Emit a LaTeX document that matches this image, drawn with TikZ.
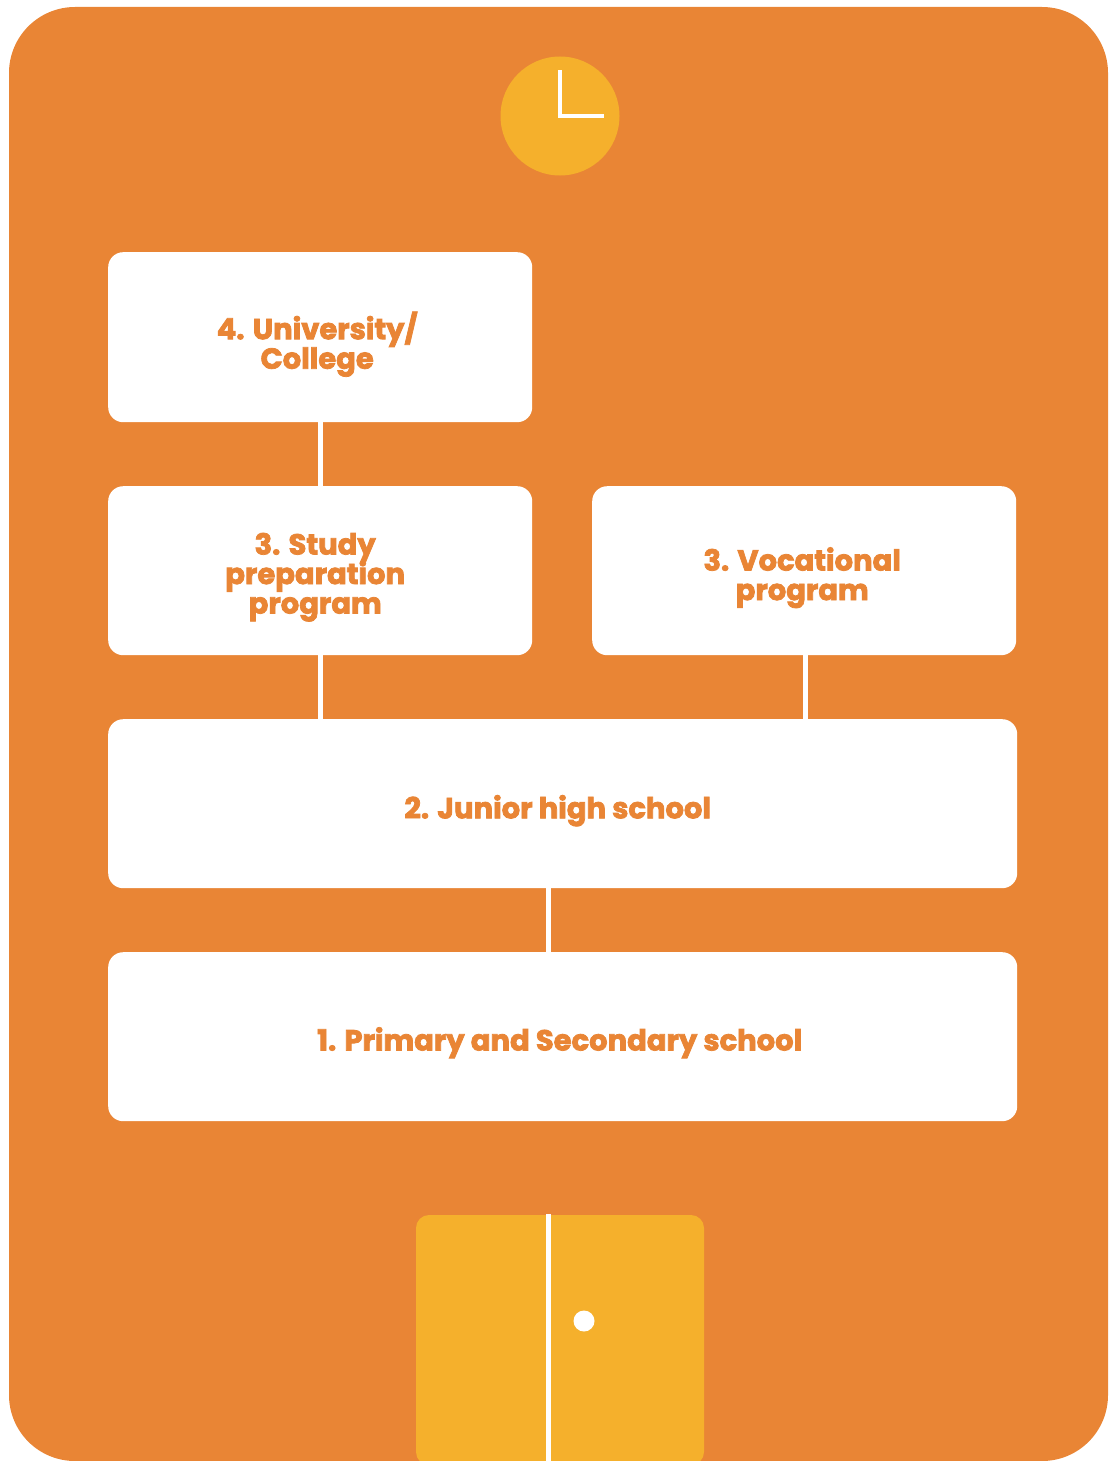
\documentclass[tikz,border=0pt]{standalone}
\usepackage{fontspec}
\setmainfont{Poppins}[BoldFeatures={FakeBold=2.6}]
\usetikzlibrary{calc}
\setlength{\lineskiplimit}{-50pt}
\setlength{\normallineskiplimit}{-50pt}
\definecolor{bgorange}{HTML}{E98535}
\definecolor{accent}{HTML}{F5B02C}
\tikzset{
  x=1pt,y=-1pt,
  panel/.style={fill=white,draw=none,rounded corners=15pt,inner sep=0pt,anchor=north west},
  boxtext/.style={text=bgorange,font=\fontsize{29}{29.5}\selectfont\bfseries,align=center,inner sep=0pt},
  link/.style={draw=white,line width=5pt,line cap=butt},
}
\begin{document}
\begin{tikzpicture}
\useasboundingbox (0,0) rectangle (1108,1461);
\clip (0,0) rectangle (1108,1461);
\fill[bgorange,rounded corners=66pt] (9,7) rectangle (1108,1461);
% clock
\node[circle,fill=accent,minimum size=119pt,inner sep=0pt] (clock) at (560,116) {};
\coordinate (handtop) at (560,70.5);
\coordinate (handmid) at (560,116);
\coordinate (handend) at (604,116);
\draw[white,line width=4.6pt,miter limit=10] (handtop) -- (handmid) -- (handend);
% boxes
\node[panel,minimum width=424pt,minimum height=170pt,label={[boxtext,xshift=-3pt,yshift=-7pt]center:4. University/\\College}] (uni) at (108,252) {};
\node[panel,minimum width=424pt,minimum height=169pt,label={[boxtext,xshift=-5pt,yshift=-6.5pt]center:3. Study\\preparation\\program}] (study) at (108,486) {};
\node[panel,minimum width=424pt,minimum height=169pt,label={[boxtext,xshift=-2pt,yshift=-7pt]center:3. Vocational\\program}] (voc) at (592,486) {};
\node[panel,minimum width=909pt,minimum height=169pt,label={[boxtext,xshift=-5pt,yshift=-7pt]center:2. Junior high school}] (junior) at (108,719) {};
\node[panel,minimum width=909pt,minimum height=169pt,label={[boxtext,xshift=-3pt,yshift=-6pt]center:1. Primary and Secondary school}] (primary) at (108,952) {};
% connectors
\coordinate (vocx) at (805,0);
\coordinate (midx) at (548.5,0);
\draw[link] (uni.south) -- (study.north);
\draw[link] (study.south) -- (study.south |- junior.north);
\draw[link] (vocx |- voc.south) -- (vocx |- junior.north);
\draw[link] (midx |- junior.south) -- (midx |- primary.north);
% door
\fill[accent,rounded corners=13pt] (416,1215) rectangle (704,1465);
\coordinate (doortop) at (548,1214);
\coordinate (doorbot) at (548,1461);
\draw[white,line width=5pt] (doortop) -- (doorbot);
\node[circle,fill=white,minimum size=21pt,inner sep=0pt] (knob) at (584,1321) {};
\end{tikzpicture}
\end{document}
